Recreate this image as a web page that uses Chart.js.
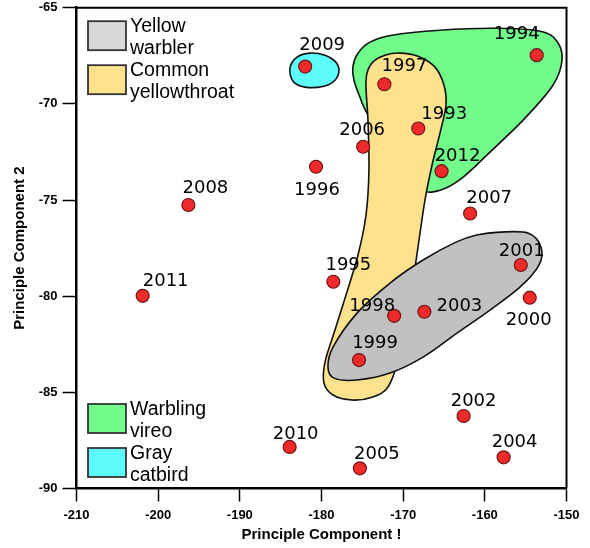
<!DOCTYPE html>
<html>
<head>
<meta charset="utf-8">
<script src="https://cdn.jsdelivr.net/npm/chart.js@4.4.1/dist/chart.umd.min.js"></script>
<style>
  html, body { margin: 0; padding: 0; background: #ffffff; }
  #wrap { width: 590px; height: 548px; }
</style>
</head>
<body>
<div id="wrap"><canvas id="pca" width="590" height="548"></canvas></div>
<script>
// Yearly scores on the first two principal components
const years = ['1993','1994','1995','1996','1997','1998','1999','2000','2001','2002',
               '2003','2004','2005','2006','2007','2008','2009','2010','2011','2012'];
const pc1 = [-168.15, -153.65, -178.55, -180.67, -172.3, -171.1, -175.4, -154.5, -155.6, -162.6,
             -167.4, -157.7, -175.3, -174.9, -161.8, -196.3, -182.0, -183.9, -201.9, -165.3];
const pc2 = [-71.28, -67.47, -79.25, -73.27, -68.98, -81.02, -83.32, -80.08, -78.38, -86.23,
             -80.81, -88.38, -88.95, -72.23, -75.7, -75.26, -68.06, -87.84, -79.98, -73.5];

// Axis ticks
const xTicks = [-210, -200, -190, -180, -170, -160, -150];
const yTicks = [-90, -85, -80, -75, -70, -65];

// Species regions: outline vertices in PC1 / PC2 units
const species = ['Yellow warbler', 'Common yellowthroat', 'Warbling vireo', 'Gray catbird'];
const vireoPC1 = [-174.43, -175.29, -176.02, -176.14, -175.53, -174.06, -171.37, -165.49, -158.76, -153.25,
                  -151.17, -150.55, -151.66, -155.08, -159.37, -162.8, -165.49, -167.94, -171.0];
const vireoPC2 = [-70.48, -69.65, -68.77, -68.04, -67.36, -66.79, -66.43, -66.17, -66.07, -66.22,
                  -66.74, -67.73, -69.03, -70.74, -72.51, -73.86, -74.49, -74.43, -72.93];
const throatPC1 = [-174.55, -173.82, -172.23, -170.39, -168.19, -166.1, -165.0, -164.76, -165.49, -166.47,
                   -167.33, -168.06, -169.16, -170.63, -171.86, -173.7, -176.27, -178.59, -179.7, -179.57,
                   -178.47, -177.0, -175.53, -174.55, -174.19, -174.31];
const throatPC2 = [-68.77, -67.88, -67.47, -67.36, -67.52, -68.09, -69.03, -70.07, -71.52, -73.19,
                   -75.0, -77.08, -80.2, -83.32, -84.72, -85.24, -85.4, -85.14, -84.52, -83.43,
                   -81.92, -79.94, -77.86, -75.78, -73.45, -70.85];
const warblerPC1 = [-161.0, -158.14, -154.72, -153.12, -153.37, -155.7, -159.37, -163.41, -167.57, -171.61,
                    -175.65, -178.47, -179.21, -178.59, -175.65, -171.61, -167.57, -163.53];
const warblerPC2 = [-76.82, -76.67, -76.72, -77.45, -78.38, -79.53, -80.72, -81.92, -83.17, -84.0,
                    -84.36, -84.26, -83.69, -82.65, -80.88, -79.32, -78.12, -77.19];
const catbirdPC1 = [-183.86, -183.0, -181.41, -179.57, -178.35, -177.86, -178.35, -179.7, -182.02, -183.49];
const catbirdPC2 = [-68.14, -67.57, -67.36, -67.47, -67.78, -68.25, -68.77, -69.08, -69.13, -68.82];

// Region styling (drawn back to front)
const regionStyle = [
  { xs: vireoPC1,   ys: vireoPC2,   fill: '#70fb8b' },
  { xs: throatPC1,  ys: throatPC2,  fill: '#fde28d' },
  { xs: warblerPC1, ys: warblerPC2, fill: '#c1c1c1' },
  { xs: catbirdPC1, ys: catbirdPC2, fill: '#5dfcfc' }
];

// Legend swatches, two per corner
const legendStyle = [
  { name: 0, fill: '#d8d8d8', lines: ['Yellow', 'warbler'],       group: 'top',    slot: 0 },
  { name: 1, fill: '#fde28d', lines: ['Common', 'yellowthroat'],  group: 'top',    slot: 1 },
  { name: 2, fill: '#70fb8b', lines: ['Warbling', 'vireo'],       group: 'bottom', slot: 0 },
  { name: 3, fill: '#5dfcfc', lines: ['Gray', 'catbird'],         group: 'bottom', slot: 1 }
];

// Year label placement, pixel offset of the label centre from its point
const labelPlacement = {
  '1993': [26, -16], '1994': [-20, -23], '1995': [15, -18], '1996': [1, 22],  '1997': [20, -20],
  '1998': [-22, -11], '1999': [16, -19], '2000': [-1, 21], '2001': [1, -16],  '2002': [10, -17],
  '2003': [35, -7],  '2004': [11, -17], '2005': [17, -16], '2006': [-1, -18], '2007': [19, -17],
  '2008': [17, -19], '2009': [17, -23], '2010': [6, -15],  '2011': [23, -16], '2012': [16, -17]
};

// Closed Catmull-Rom outline through scaled vertices
function traceClosed(ctx, pts) {
  const n = pts.length;
  ctx.beginPath();
  ctx.moveTo(pts[0].x, pts[0].y);
  for (let i = 0; i < n; i++) {
    const p0 = pts[(i - 1 + n) % n], p1 = pts[i], p2 = pts[(i + 1) % n], p3 = pts[(i + 2) % n];
    const c1x = p1.x + (p2.x - p0.x) / 6, c1y = p1.y + (p2.y - p0.y) / 6;
    const c2x = p2.x - (p3.x - p1.x) / 6, c2y = p2.y - (p3.y - p1.y) / 6;
    ctx.bezierCurveTo(c1x, c1y, c2x, c2y, p2.x, p2.y);
  }
  ctx.closePath();
}

const regionsPlugin = {
  id: 'speciesRegions',
  beforeDatasetsDraw(chart) {
    const { ctx, scales: { x, y } } = chart;
    ctx.save();
    regionStyle.forEach(r => {
      const pts = r.xs.map((v, i) => ({ x: x.getPixelForValue(v), y: y.getPixelForValue(r.ys[i]) }));
      traceClosed(ctx, pts);
      ctx.fillStyle = r.fill;
      ctx.fill();
      ctx.lineWidth = 1.6;
      ctx.strokeStyle = '#111111';
      ctx.stroke();
    });
    ctx.restore();
  }
};

const labelsPlugin = {
  id: 'yearLabels',
  afterDatasetsDraw(chart) {
    const { ctx } = chart;
    const meta = chart.getDatasetMeta(0);
    const size = 18;
    ctx.save();
    ctx.font = size + 'px "DejaVu Sans"';
    ctx.fillStyle = '#000000';
    ctx.textAlign = 'center';
    ctx.textBaseline = 'alphabetic';
    meta.data.forEach((pt, i) => {
      const off = labelPlacement[years[i]];
      ctx.fillText(years[i], pt.x + off[0], pt.y + off[1] + size * 0.365);
    });
    ctx.restore();
  }
};

const framePlugin = {
  id: 'frameAndLegend',
  afterDraw(chart) {
    const { ctx, chartArea: a } = chart;
    ctx.save();
    // top and right edges of the plot frame
    ctx.strokeStyle = '#000000';
    ctx.lineWidth = 2;
    ctx.beginPath();
    ctx.moveTo(a.left, a.top);
    ctx.lineTo(a.right, a.top);
    ctx.lineTo(a.right, a.bottom);
    ctx.stroke();

    // legend swatches in the two left corners
    ctx.font = '19.5px "Liberation Sans", Arial, sans-serif';
    ctx.textAlign = 'left';
    ctx.textBaseline = 'alphabetic';
    legendStyle.forEach(l => {
      const bx = a.left + 11.5;
      const by = l.group === 'top' ? a.top + 13.5 + l.slot * 44 : a.bottom - 84.5 + l.slot * 44;
      ctx.fillStyle = l.fill;
      ctx.fillRect(bx, by, 38, 29);
      ctx.lineWidth = 1.8;
      ctx.strokeStyle = '#333333';
      ctx.strokeRect(bx, by, 38, 29);
      ctx.fillStyle = '#000000';
      ctx.fillText(l.lines[0], bx + 42, by + 11);
      ctx.fillText(l.lines[1], bx + 42, by + 32.5);
    });
    ctx.restore();
  }
};

const tickFont = { family: '"Liberation Sans", Arial, sans-serif', size: 13, weight: 'bold' };
const titleFont = { family: '"Liberation Sans", Arial, sans-serif', size: 15, weight: 'bold' };

new Chart(document.getElementById('pca'), {
  type: 'scatter',
  data: {
    datasets: [{
      label: 'Year',
      data: years.map((yr, i) => ({ x: pc1[i], y: pc2[i] })),
      pointRadius: 6.5,
      pointHoverRadius: 6.5,
      backgroundColor: '#ee2a2a',
      borderColor: '#6e1414',
      borderWidth: 1.2
    }]
  },
  options: {
    responsive: false,
    animation: false,
    devicePixelRatio: 1,
    layout: { padding: { top: 7.5, right: 23.5, left: 0, bottom: 0 } },
    plugins: { legend: { display: false }, tooltip: { enabled: false } },
    scales: {
      x: {
        type: 'linear',
        position: 'bottom',
        min: xTicks[0],
        max: xTicks[xTicks.length - 1],
        afterBuildTicks: s => { s.ticks = xTicks.map(v => ({ value: v })); },
        afterFit: s => { s.height = 59.5; s.paddingLeft = 0; s.paddingRight = 0; },
        ticks: { font: tickFont, color: '#000000', padding: 6 },
        grid: { drawOnChartArea: false, drawTicks: true, tickLength: 13, tickColor: '#000000', tickWidth: 1.5 },
        border: { display: true, color: '#000000', width: 2.5 },
        title: { display: true, text: 'Principle Component !', font: titleFont, color: '#000000', padding: { top: 0, bottom: 4 } }
      },
      y: {
        type: 'linear',
        position: 'left',
        min: yTicks[0],
        max: yTicks[yTicks.length - 1],
        afterBuildTicks: s => { s.ticks = yTicks.map(v => ({ value: v })); },
        afterFit: s => { s.width = 76.5; s.paddingTop = 0; s.paddingBottom = 0; },
        ticks: { font: tickFont, color: '#000000', padding: 5 },
        grid: { drawOnChartArea: false, drawTicks: true, tickLength: 14, tickColor: '#000000', tickWidth: 1.5 },
        border: { display: true, color: '#000000', width: 2.5 },
        title: { display: true, text: 'Principle Component 2', font: titleFont, color: '#000000', padding: { top: 11, bottom: 0 } }
      }
    }
  },
  plugins: [regionsPlugin, labelsPlugin, framePlugin]
});
</script>
</body>
</html>
